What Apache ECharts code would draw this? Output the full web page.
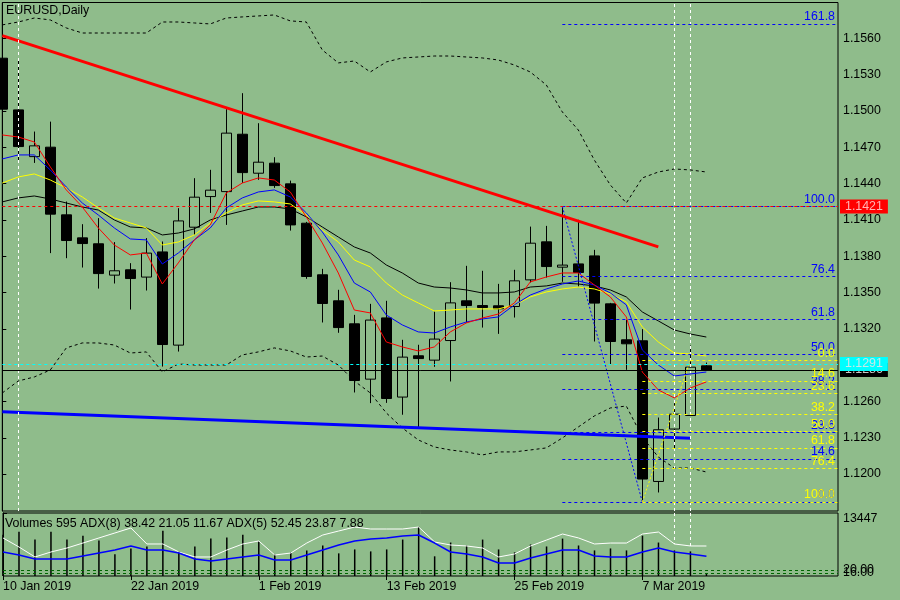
<!DOCTYPE html>
<html><head><meta charset="utf-8">
<script src="https://cdn.jsdelivr.net/npm/echarts@6/dist/echarts.min.js"></script>
<style>html,body{margin:0;padding:0;background:#8fbc8b}#c{width:900px;height:600px}</style>
</head><body><div id="c"></div>
<script>
// ---------- data ----------
const categories = ['10 Jan 2019','11 Jan 2019','14 Jan 2019','15 Jan 2019','16 Jan 2019','17 Jan 2019','18 Jan 2019','21 Jan 2019','22 Jan 2019','23 Jan 2019','24 Jan 2019','25 Jan 2019','28 Jan 2019','29 Jan 2019','30 Jan 2019','31 Jan 2019','1 Feb 2019','4 Feb 2019','5 Feb 2019','6 Feb 2019','7 Feb 2019','8 Feb 2019','11 Feb 2019','12 Feb 2019','13 Feb 2019','14 Feb 2019','15 Feb 2019','18 Feb 2019','19 Feb 2019','20 Feb 2019','21 Feb 2019','22 Feb 2019','25 Feb 2019','26 Feb 2019','27 Feb 2019','28 Feb 2019','1 Mar 2019','4 Mar 2019','5 Mar 2019','6 Mar 2019','7 Mar 2019','8 Mar 2019','11 Mar 2019','12 Mar 2019','13 Mar 2019'];
const openP  = [1.15435,1.15008,1.14622,1.14700,1.14141,1.13951,1.13902,1.13643,1.13687,1.13627,1.13835,1.13065,1.14039,1.14292,1.14333,1.14807,1.14485,1.14568,1.14397,1.14072,1.13646,1.13431,1.13241,1.12784,1.13290,1.12636,1.12977,1.12941,1.13103,1.13431,1.13392,1.13390,1.13384,1.13604,1.13918,1.13709,1.13736,1.13802,1.13406,1.13109,1.13101,1.11939,1.12372,1.12484,1.12894];
const closeP = [1.15014,1.14705,1.14711,1.14147,1.13929,1.13904,1.13656,1.13679,1.13615,1.13825,1.13070,1.14091,1.14287,1.14345,1.14816,1.14490,1.14576,1.14383,1.14058,1.13632,1.13409,1.13210,1.12773,1.13272,1.12624,1.12966,1.12954,1.13115,1.13414,1.13392,1.13376,1.13365,1.13596,1.13907,1.13714,1.13726,1.13665,1.13412,1.13095,1.13076,1.11959,1.12366,1.12495,1.12883,1.12860];
const lowP   = [1.14967,1.14581,1.14570,1.13825,1.13783,1.13706,1.13532,1.13574,1.13359,1.13516,1.12888,1.13012,1.13976,1.14157,1.14058,1.14405,1.14430,1.14364,1.14011,1.13613,1.13252,1.13167,1.12674,1.12586,1.12588,1.12490,1.12382,1.12886,1.12765,1.13252,1.13210,1.13158,1.13293,1.13582,1.13623,1.13588,1.13549,1.13095,1.12902,1.12861,1.11770,1.11848,1.12215,1.12484,1.12860];
const highP  = [1.15462,1.15421,1.14829,1.14911,1.14251,1.14064,1.14114,1.13916,1.13742,1.13949,1.13921,1.14196,1.14444,1.14513,1.15014,1.15146,1.14898,1.14617,1.14424,1.14083,1.13695,1.13522,1.13315,1.13406,1.13431,1.13109,1.13068,1.13343,1.13585,1.13720,1.13679,1.13571,1.13687,1.14044,1.14050,1.14210,1.14100,1.13852,1.13414,1.13274,1.13197,1.12467,1.12586,1.13062,1.12921];

const maRed    = [1.14801,1.14784,1.14743,1.14537,1.14347,1.14206,1.14033,1.13892,1.13810,1.13826,1.13570,1.13744,1.13934,1.14058,1.14322,1.14404,1.14446,1.14429,1.14330,1.14124,1.13909,1.13661,1.13355,1.13331,1.13091,1.13050,1.13017,1.13050,1.13174,1.13248,1.13289,1.13322,1.13413,1.13587,1.13628,1.13661,1.13661,1.13562,1.13463,1.13298,1.12843,1.12695,1.12629,1.12711,1.12761];
const maBlue   = [1.14603,1.14636,1.14636,1.14512,1.14371,1.14239,1.14140,1.14033,1.13942,1.13934,1.13735,1.13826,1.13934,1.14033,1.14198,1.14281,1.14330,1.14347,1.14289,1.14157,1.14000,1.13810,1.13578,1.13504,1.13314,1.13232,1.13174,1.13165,1.13215,1.13256,1.13281,1.13298,1.13397,1.13479,1.13529,1.13570,1.13595,1.13562,1.13496,1.13397,1.13025,1.12901,1.12810,1.12827,1.12843];
const maYellow = [1.14404,1.14454,1.14479,1.14429,1.14363,1.14289,1.14198,1.14115,1.14074,1.14033,1.13892,1.13917,1.13975,1.14074,1.14157,1.14223,1.14256,1.14248,1.14231,1.14140,1.14016,1.13917,1.13768,1.13711,1.13578,1.13479,1.13413,1.13347,1.13355,1.13364,1.13364,1.13364,1.13397,1.13463,1.13504,1.13529,1.13545,1.13529,1.13488,1.13422,1.13215,1.13091,1.13000,1.12992,1.12975];
const maBlack  = [1.14248,1.14281,1.14297,1.14272,1.14239,1.14206,1.14181,1.14099,1.14041,1.14033,1.13975,1.13991,1.14025,1.14099,1.14140,1.14173,1.14206,1.14206,1.14190,1.14124,1.14041,1.13958,1.13876,1.13826,1.13727,1.13661,1.13578,1.13545,1.13537,1.13521,1.13496,1.13496,1.13504,1.13545,1.13554,1.13578,1.13570,1.13554,1.13521,1.13463,1.13339,1.13265,1.13190,1.13157,1.13132];
const bandUpper = [1.15710,1.15734,1.15767,1.15751,1.15685,1.15643,1.15643,1.15643,1.15643,1.15643,1.15734,1.15734,1.15726,1.15718,1.15767,1.15776,1.15784,1.15792,1.15743,1.15734,1.15503,1.15396,1.15412,1.15321,1.15404,1.15437,1.15445,1.15453,1.15453,1.15445,1.15437,1.15420,1.15379,1.15321,1.15214,1.14991,1.14842,1.14594,1.14388,1.14239,1.14446,1.14495,1.14520,1.14512,1.14495];
const bandLower = [1.12670,1.12769,1.12802,1.12860,1.13042,1.13083,1.13083,1.13066,1.13000,1.13009,1.12843,1.12909,1.12901,1.12901,1.12901,1.12984,1.13009,1.13042,1.13017,1.12967,1.12975,1.12901,1.12769,1.12670,1.12505,1.12381,1.12282,1.12224,1.12199,1.12183,1.12158,1.12183,1.12183,1.12199,1.12216,1.12298,1.12389,1.12480,1.12546,1.12562,1.12306,1.12141,1.12050,1.12050,1.12017];

const volumes = [8824,9455,7774,9455,7774,8614,7564,4622,5883,6303,9665,5253,6303,7984,8194,8824,7354,4622,5042,5463,6513,4832,5673,5253,5673,7774,10505,4202,7143,6513,7774,5673,5042,6723,6303,7984,6513,5463,5883,5463,8614,7143,5463,5253,595];
const adx5 = [63.4,51.1,37.5,44.3,49.7,56.5,63.4,70.2,77.0,55.2,55.2,44.3,37.5,37.5,47.0,55.2,59.3,40.2,42.9,56.5,67.4,72.9,78.3,75.6,75.6,75.6,78.3,57.9,53.8,52.5,49.7,37.5,41.6,52.5,60.6,68.8,63.4,55.2,56.5,56.5,68.8,71.5,55.2,52.5,52.45];
const adx8 = [44.3,40.2,34.7,34.7,34.7,38.8,42.9,47.0,52.5,47.0,47.0,42.9,34.7,32.0,34.7,37.5,40.2,33.4,33.4,40.2,47.0,53.8,59.3,62.0,63.4,66.1,67.4,56.5,44.3,41.6,37.5,29.3,29.3,36.1,41.6,47.0,47.0,38.8,37.5,37.5,44.3,49.7,44.3,41.6,38.42];
const adx8Info = [38.42, 21.05, 11.67];
const adx5Info = [52.45, 23.87, 7.88];
const adxLevels = [20, 16];

const priceTicks = [1.1200,1.1230,1.1260,1.1320,1.1350,1.1380,1.1410,1.1440,1.1470,1.1500,1.1530,1.1560];
const volTicks = [13447];
const dateTicks = [0, 8, 16, 24, 32, 40];

// trend lines: [bar index, price]
const trendRed  = [[0, 1.15621], [41, 1.13876]];
const trendBlue = [[0, 1.12515], [43, 1.12296]];
// fibonacci anchors: [bar index, price]  (first = 100 level, second = 0 level)
const fibBlueAnchor   = [[35, 1.1421], [40, 1.1177]];
const fibYellowAnchor = [[40, 1.1177], [43, 1.1294]];
const fibBlueLevels   = [0, 14.6, 23.6, 38.2, 50, 61.8, 76.4, 100, 161.8];
const fibYellowLevels = [0, 14.6, 23.6, 38.2, 50, 61.8, 76.4, 100];
const hLinePrice = 1.1421;
const askPrice = 1.1291;
const vLines = [1, 42, 43];

// ---------- layout ----------
const FONT = '"Liberation Sans", Arial, sans-serif';
const FS = 12.4;
const BG = '#8fbc8b';
const GL = 2.3, GW = 835.7;
const xMin = 0, xMax = 52.23;
const yMin = 1.11695, yMax = 1.15895;
const adxMin = 11.6, adxMax = 97.4;
const bidPrice = closeP[closeP.length - 1];

const idx = categories.map((_, i) => i);
const pairs = arr => arr.map((v, i) => [i, v]);

// one series per fibonacci level (line + label)
function fibSeries(levels, anchor, color) {
  const b0 = Math.min(anchor[0][0], anchor[1][0]);
  const p100 = anchor[0][1], p0 = anchor[1][1];
  return levels.map(lv => {
    const p = p0 + (p100 - p0) * lv / 100;
    return {
      type: 'line', data: [], silent: true, showSymbol: false,
      markLine: {
        silent: true, symbol: ['none', 'none'], animation: false, precision: 6,
        lineStyle: { color: color, width: 1, type: [3, 3], opacity: 1 },
        label: { show: true, position: 'insideEndTop', color: color, fontSize: FS, fontFamily: FONT, distance: [3, 1], formatter: lv.toFixed(1) },
        data: [[{ coord: [b0, p] }, { coord: [xMax, p] }]]
      }
    };
  });
}

const priceLabel = (bg, fg, txt) => ({
  show: true, position: 'end', distance: 2, fontSize: FS, fontFamily: FONT,
  backgroundColor: bg, color: fg, padding: [1, 5, 0, 5], lineHeight: 13, formatter: txt
});

const chart = echarts.init(document.getElementById('c'), null, { renderer: 'canvas' });
chart.setOption({
  animation: false,
  backgroundColor: BG,
  textStyle: { fontFamily: FONT },
  title: [
    { text: 'EURUSD,Daily', left: 6, top: 5, padding: 0, textStyle: { fontSize: FS, fontWeight: 'normal', color: '#000', fontFamily: FONT } },
    { text: 'Volumes ' + volumes[volumes.length - 1] + ' ADX(8) ' + adx8Info.map(v => v.toFixed(2)).join(' ') + ' ADX(5) ' + adx5Info.map(v => v.toFixed(2)).join(' '),
      left: 5, top: 518, padding: 0, textStyle: { fontSize: FS, fontWeight: 'normal', color: '#000', fontFamily: FONT } }
  ],
  grid: [
    { left: GL, top: 2.5, width: GW, height: 508.5, show: true, borderColor: '#000', borderWidth: 1, backgroundColor: 'transparent' },
    { left: GL, top: 513, width: GW, height: 63, show: true, borderColor: '#000', borderWidth: 1, backgroundColor: 'transparent' }
  ],
  xAxis: [
    { gridIndex: 0, type: 'value', min: xMin, max: xMax, show: false },
    { gridIndex: 1, type: 'value', min: xMin, max: xMax, position: 'bottom',
      axisLine: { show: false }, splitLine: { show: false },
      axisTick: { show: true, customValues: dateTicks, length: 4, lineStyle: { color: '#000' } },
      axisLabel: { show: true, customValues: dateTicks, formatter: v => categories[Math.round(v)], align: 'left', margin: 5,
        showMinLabel: true, color: '#000', fontSize: FS, fontFamily: FONT } }
  ],
  yAxis: [
    { gridIndex: 0, type: 'value', position: 'right', min: yMin, max: yMax, scale: true,
      axisLine: { show: true, lineStyle: { color: '#000' } }, splitLine: { show: false },
      axisTick: { show: true, customValues: priceTicks, length: 4, lineStyle: { color: '#000' } },
      axisLabel: { show: true, customValues: priceTicks, formatter: v => v.toFixed(4), margin: 5, color: '#000', fontSize: FS, fontFamily: FONT } },
    { gridIndex: 1, type: 'value', position: 'right', min: 0, max: 13447,
      axisLine: { show: true, lineStyle: { color: '#000' } }, splitLine: { show: false },
      axisTick: { show: true, customValues: volTicks, length: 4, lineStyle: { color: '#000' } },
      axisLabel: { show: true, customValues: volTicks, formatter: v => String(Math.round(v)), verticalAlign: 'top', margin: 5, color: '#000', fontSize: FS, fontFamily: FONT } },
    { gridIndex: 1, type: 'value', position: 'right', min: adxMin, max: adxMax, show: false }
  ],
  series: [
    { type: 'candlestick', xAxisIndex: 0, yAxisIndex: 0, barWidth: 10, silent: true,
      encode: { x: 0, y: [1, 2, 3, 4] },
      itemStyle: { color: 'transparent', color0: '#000', borderColor: '#000', borderColor0: '#000', borderWidth: 1 },
      data: idx.map(i => [i, openP[i], closeP[i], lowP[i], highP[i]]),
      markLine: { silent: true, symbol: ['none', 'none'], animation: false, precision: 6,
        lineStyle: { color: '#ffffff', type: [3, 3], width: 1 }, label: { show: false },
        data: vLines.map(b => ({ xAxis: b })) } },
    { type: 'line', name: 'bandU', data: pairs(bandUpper), showSymbol: false, silent: true, lineStyle: { color: '#000', width: 1, type: [3, 3] } },
    { type: 'line', name: 'bandL', data: pairs(bandLower), showSymbol: false, silent: true, lineStyle: { color: '#000', width: 1, type: [3, 3] } },
    { type: 'line', name: 'black', data: pairs(maBlack), showSymbol: false, silent: true, lineStyle: { color: '#000', width: 1 } },
    { type: 'line', name: 'yellow', data: pairs(maYellow), showSymbol: false, silent: true, lineStyle: { color: '#ffff00', width: 1 } },
    { type: 'line', name: 'blue', data: pairs(maBlue), showSymbol: false, silent: true, lineStyle: { color: '#0000ff', width: 1 } },
    { type: 'line', name: 'red', data: pairs(maRed), showSymbol: false, silent: true, lineStyle: { color: '#ff0000', width: 1 } },
    { type: 'line', name: 'trendBlue', data: trendBlue, showSymbol: false, silent: true, lineStyle: { color: '#0000ff', width: 3 } },
    { type: 'line', name: 'fibBlue', data: fibBlueAnchor, showSymbol: false, silent: true, lineStyle: { color: '#0000ff', width: 1, type: [2, 2] } },
    { type: 'line', name: 'fibYellow', data: fibYellowAnchor, showSymbol: false, silent: true, lineStyle: { color: '#ffff00', width: 1, type: [2, 2] } },
    ...fibSeries(fibBlueLevels, fibBlueAnchor, '#0000ff'),
    ...fibSeries(fibYellowLevels, fibYellowAnchor, '#ffff00'),
    { type: 'line', name: 'trendRed', data: trendRed, showSymbol: false, silent: true, lineStyle: { color: '#ff0000', width: 3 },
      markLine: { silent: true, symbol: ['none', 'none'], animation: false, precision: 6,
        data: [
          { yAxis: hLinePrice, lineStyle: { color: '#ff0000', type: [3, 3], width: 1 }, label: priceLabel('#ff0000', '#ffb4b4', hLinePrice.toFixed(4)) },
          { yAxis: bidPrice, lineStyle: { color: '#000000', type: 'solid', width: 1 }, label: priceLabel('#000000', '#c8c8c8', bidPrice.toFixed(4)) },
          { yAxis: askPrice, lineStyle: { color: '#00ffff', type: [3, 3], width: 1 }, label: priceLabel('#00ffff', '#c8e8e8', askPrice.toFixed(4)) }
        ] } },

    { type: 'bar', name: 'vol', xAxisIndex: 1, yAxisIndex: 1, data: pairs(volumes), barWidth: 1.5, silent: true, itemStyle: { color: '#000' } },
    { type: 'line', name: 'adx5', xAxisIndex: 1, yAxisIndex: 2, data: pairs(adx5), showSymbol: false, silent: true, lineStyle: { color: '#ffffff', width: 1 },
      markLine: { silent: true, symbol: ['none', 'none'], animation: false, precision: 6,
        lineStyle: { color: '#ffffff', type: [3, 3], width: 1 }, label: { show: false },
        data: vLines.filter(b => b > 40).map(b => [{ coord: [b, adxMax] }, { coord: [b, adx5[b]] }]) } },
    { type: 'line', name: 'adx8', xAxisIndex: 1, yAxisIndex: 2, data: pairs(adx8), showSymbol: false, silent: true, lineStyle: { color: '#0000ff', width: 1.5 },
      markLine: { silent: true, symbol: ['none', 'none'], animation: false, precision: 2,
        lineStyle: { color: '#006400', type: [3, 3], width: 1 },
        label: { show: true, position: 'end', distance: 5, color: '#000', fontSize: FS, fontFamily: FONT, formatter: p => Number(p.value).toFixed(2) },
        data: adxLevels.map(v => ({ yAxis: v })) } }
  ]
});
</script></body></html>
